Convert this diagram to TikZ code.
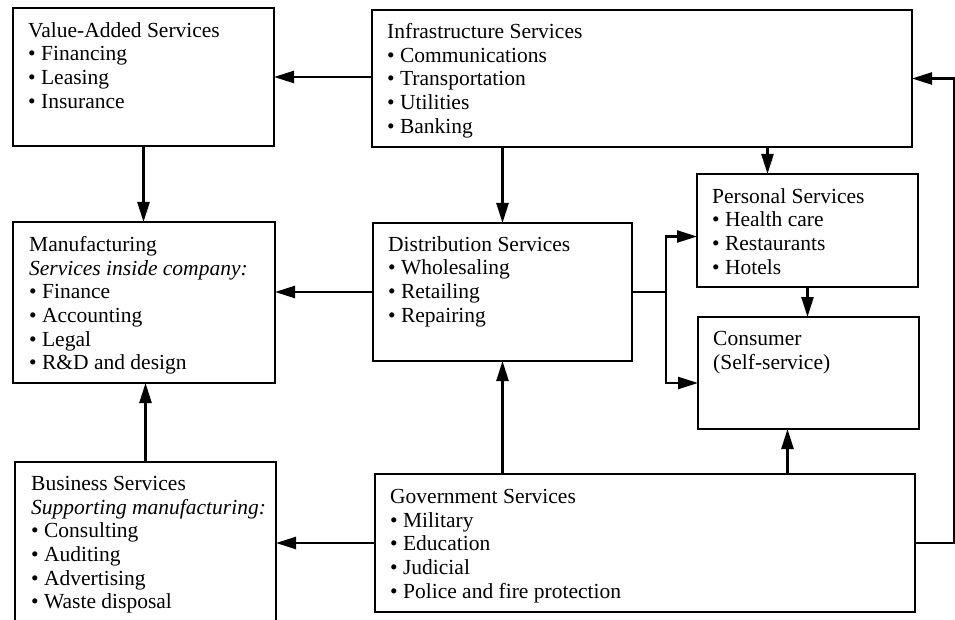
\documentclass[tikz,border=0pt]{standalone}
\usepackage{fontspec}
\setmainfont{Liberation Serif}
\usetikzlibrary{arrows.meta}
\begin{document}
\begin{tikzpicture}[
x=1pt, y=-1pt,
box/.style={draw, line width=1.8pt, anchor=north west, inner sep=0pt, outer sep=0pt},
txt/.style={anchor=north west, inner sep=0pt, align=left, font=\fontsize{21.5}{23.7}\selectfont},
arr/.style={line width=2.4pt, -{Triangle[length=20pt,width=12pt]}}
]
\useasboundingbox (0,0) rectangle (955,620);
\clip (0,0) rectangle (955,620);
\fill[white] (0,0) rectangle (955,620);

% the boxes
\node[box, minimum width=261, minimum height=138] (va) at (13,8) {};
\node[box, minimum width=540, minimum height=137] (infra) at (372,10) {};
\node[box, minimum width=262, minimum height=161] (manu) at (13,222) {};
\node[box, minimum width=259, minimum height=138] (dist) at (373,223) {};
\node[box, minimum width=221, minimum height=113] (pers) at (697,174) {};
\node[box, minimum width=221, minimum height=112] (cons) at (698,317) {};
\node[box, minimum width=261, minimum height=180] (bus) at (15,462) {};
\node[box, minimum width=540, minimum height=138] (gov) at (375,474) {};

% their texts
\node[txt] (vaT) at ([shift={(15,14)}]va.north west)
  {Value-Added Services\\ \textbullet\ Financing\\ \textbullet\ Leasing\\ \textbullet\ Insurance};
\node[txt] (infraT) at ([shift={(15,13)}]infra.north west)
  {Infrastructure Services\\ \textbullet\ Communications\\ \textbullet\ Transportation\\ \textbullet\ Utilities\\ \textbullet\ Banking};
\node[txt] (manuT) at ([shift={(16,14)}]manu.north west)
  {Manufacturing\\ \textit{Services inside company:}\\ \textbullet\ Finance\\ \textbullet\ Accounting\\ \textbullet\ Legal\\ \textbullet\ R\&D and design};
\node[txt] (distT) at ([shift={(15,13)}]dist.north west)
  {Distribution Services\\ \textbullet\ Wholesaling\\ \textbullet\ Retailing\\ \textbullet\ Repairing};
\node[txt] (persT) at ([shift={(15,14)}]pers.north west)
  {Personal Services\\ \textbullet\ Health care\\ \textbullet\ Restaurants\\ \textbullet\ Hotels};
\node[txt] (consT) at ([shift={(15,14)}]cons.north west)
  {Consumer\\ (Self-service)};
\node[txt] (busT) at ([shift={(16,14)}]bus.north west)
  {Business Services\\ \textit{Supporting manufacturing:}\\ \textbullet\ Consulting\\ \textbullet\ Auditing\\ \textbullet\ Advertising\\ \textbullet\ Waste disposal};
\node[txt] (govT) at ([shift={(15,15)}]gov.north west)
  {Government Services\\ \textbullet\ Military\\ \textbullet\ Education\\ \textbullet\ Judicial\\ \textbullet\ Police and fire protection};

% connectors
\coordinate (jn) at ([xshift=34pt]dist.east);
\coordinate (rail) at (954,0);
\draw[arr] (infra.west |- va.east) -- (va.east);
\draw[arr] (va.south) -- (va.south |- manu.north);
\draw[arr] (dist.north |- infra.south) -- (dist.north);
\draw[arr] ([xshift=-40pt]pers.north |- infra.south) -- ([xshift=-40pt]pers.north);
\draw[arr] (pers.south) -- (pers.south |- cons.north);
\draw[arr] (dist.west) -- (dist.west -| manu.east);
\draw[arr] (dist.east) -- (jn) |- ([yshift=-6pt]pers.west);
\draw[arr] (jn) |- ([yshift=-10pt]cons.west);
\draw[arr] (dist.south |- gov.north) -- (dist.south);
\draw[arr] ([xshift=-21pt]cons.south |- gov.north) -- ([xshift=-21pt]cons.south);
\draw[arr] (gov.west) -- (gov.west -| bus.east);
\draw[arr] (bus.north) -- (bus.north |- manu.south);
\draw[arr] (gov.east) -- (gov.east -| rail) |- (infra.east);
\end{tikzpicture}
\end{document}
